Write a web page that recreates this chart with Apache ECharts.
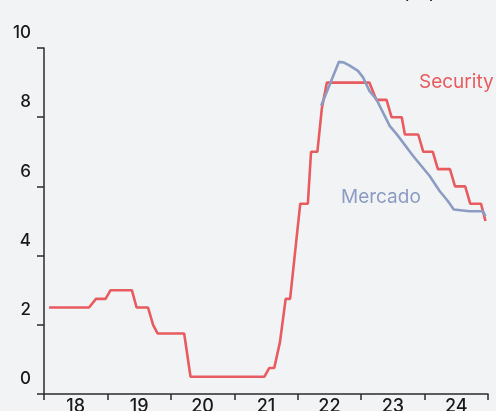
<!DOCTYPE html>
<html>
<head>
<meta charset="utf-8">
<script src="https://cdn.jsdelivr.net/npm/echarts@6/dist/echarts.min.js"></script>
<style>
  html, body { margin: 0; padding: 0; background: #f2f3f5; }
  #chart { width: 496px; height: 411px; }
</style>
</head>
<body>
<div id="chart"></div>
<script>
// year labels (categories on the x axis)
const years = ['18', '19', '20', '21', '22', '23', '24'];
const yTicks = [0, 2, 4, 6, 8, 10];

// Security rate (step line), x = year (two digits + fraction)
const securityX = [18.08, 18.71, 18.82, 18.97, 19.05, 19.385, 19.46, 19.64, 19.72, 19.79,
  20.21, 20.31, 21.475, 21.55, 21.63, 21.72, 21.81, 21.88, 22.04, 22.16,
  22.21, 22.31, 22.38, 22.46, 23.13, 23.24, 23.40, 23.48, 23.64, 23.69,
  23.90, 23.98, 24.13, 24.21, 24.40, 24.48, 24.64, 24.72, 24.89, 24.96];
const securityY = [2.5, 2.5, 2.75, 2.75, 3.0, 3.0, 2.5, 2.5, 2.0, 1.75,
  1.75, 0.5, 0.5, 0.75, 0.75, 1.5, 2.75, 2.75, 5.5, 5.5,
  7.0, 7.0, 8.25, 9.0, 9.0, 8.5, 8.5, 8.0, 8.0, 7.5,
  7.5, 7.0, 7.0, 6.5, 6.5, 6.0, 6.0, 5.5, 5.5, 5.0];

// Mercado (market expectation)
const mercadoX = [22.37, 22.65, 22.73, 22.82, 22.95, 23.03, 23.13, 23.24, 23.45, 23.56,
  23.82, 24.08, 24.24, 24.37, 24.46, 24.71, 24.92, 24.96];
const mercadoY = [8.33, 9.6, 9.58, 9.49, 9.34, 9.15, 8.76, 8.52, 7.75, 7.51,
  6.88, 6.3, 5.86, 5.57, 5.33, 5.28, 5.28, 5.14];

const RED = '#e85b5f';
const BLUE = '#8c9cc2';
const FONT = 'Inter';

function pairs(xs, ys) {
  return xs.map((x, i) => [x, ys[i]]);
}

const chart = echarts.init(document.getElementById('chart'));

const option = {
  backgroundColor: '#f2f3f5',
  animation: false,
  grid: { left: 44, right: 8, top: 48, bottom: 17, outerBoundsMode: 'none', containLabel: false },
  xAxis: [
    {
      type: 'category',
      data: years,
      boundaryGap: true,
      axisLine: { lineStyle: { color: '#2b2b2b', width: 1.5 } },
      axisTick: { show: true, length: 6, lineStyle: { color: '#2b2b2b', width: 1.5 } },
      axisLabel: { color: '#1a1a1a', fontSize: 18, fontWeight: 500, fontFamily: FONT, margin: 4 },
      splitLine: { show: false }
    },
    {
      type: 'value',
      min: 18,
      max: 25,
      show: false
    }
  ],
  yAxis: {
    type: 'value',
    min: yTicks[0],
    max: yTicks[yTicks.length - 1],
    interval: 2,
    axisLine: { show: true, lineStyle: { color: '#2b2b2b', width: 1.5 } },
    axisTick: { show: true, length: 7, lineStyle: { color: '#2b2b2b', width: 1.5 } },
    axisLabel: {
      color: '#1a1a1a', fontSize: 17, fontWeight: 500, fontFamily: FONT,
      margin: 13, lineHeight: 30,
      formatter: '{value}\n '
    },
    splitLine: { show: false }
  },
  graphic: [
    {
      type: 'text', left: 419, top: 73,
      style: { text: 'Security', fill: RED, font: '19px ' + FONT }
    },
    {
      type: 'text', left: 341, top: 188,
      style: { text: 'Mercado', fill: BLUE, font: '19px ' + FONT }
    },
    {
      type: 'text', left: 402, top: -17,
      style: { text: '(%)', fill: '#1e1e1e', font: '20px ' + FONT }
    }
  ],
  series: [
    {
      name: 'Security',
      type: 'line',
      xAxisIndex: 1,
      data: pairs(securityX, securityY),
      showSymbol: false,
      lineStyle: { color: RED, width: 2.6 },
      itemStyle: { color: RED }
    },
    {
      name: 'Mercado',
      type: 'line',
      xAxisIndex: 1,
      data: pairs(mercadoX, mercadoY),
      showSymbol: false,
      lineStyle: { color: BLUE, width: 2.6 },
      itemStyle: { color: BLUE }
    }
  ]
};

chart.setOption(option);
</script>
</body>
</html>
